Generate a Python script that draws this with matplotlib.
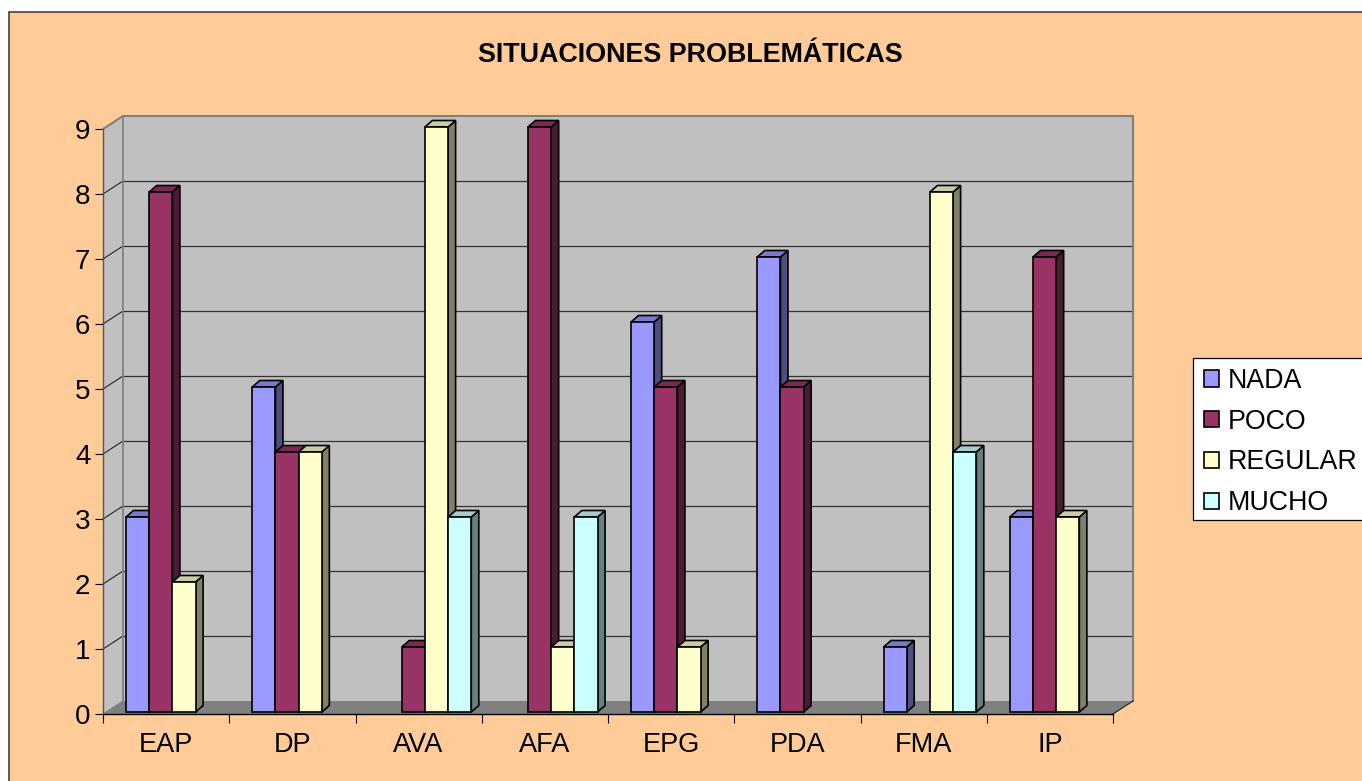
import matplotlib
matplotlib.use('Agg')
import matplotlib.pyplot as plt
from matplotlib.patches import Rectangle

plt.rcParams['font.family'] = ['Liberation Sans', 'DejaVu Sans']

categories = ['EAP', 'DP', 'AVA', 'AFA', 'EPG', 'PDA', 'FMA', 'IP']
series_names = ['NADA', 'POCO', 'REGULAR', 'MUCHO']
nada = [3, 5, 0, 0, 6, 7, 1, 3]
poco = [8, 4, 1, 9, 5, 5, 0, 7]
regular = [2, 4, 9, 1, 1, 0, 8, 3]
mucho = [0, 0, 3, 3, 0, 0, 4, 0]

W, H = 1362, 781
# pixel box of the front of the plot
left, right, bottom, top = 103, 1113, 714, 129
px_x = (right - left) / len(categories)
px_y = (bottom - top) / 9

# depth of the walls and of the bars, in data units
wall_dx, wall_dy = 20 / px_x, 13 / px_y
bar_dx, bar_dy = 7.5 / px_x, 6.5 / px_y
bar_lift = 2 / px_y
bar_start = 23 / px_x
bar_w = 23.2 / px_x

front = ['#9999FF', '#993366', '#FFFFCC', '#CCFFFF']
side = ['#4D4D80', '#4D1A33', '#808066', '#668080']
cap = ['#7A7ACC', '#7A2952', '#CCCCA3', '#A3CCCC']

fig = plt.figure(figsize=(W / 100, H / 100), dpi=100, facecolor='white')
fig.add_artist(Rectangle((9 / W, -0.02), 1.02, 1 - 12 / H + 0.02, transform=fig.transFigure,
                         facecolor='#FFCC99', edgecolor='#333333', linewidth=1.1, zorder=-5))

ax = fig.add_axes([left / W, 1 - bottom / H, (right - left) / W, (bottom - top) / H])
ax.patch.set_alpha(0)
n = len(categories)
ax.set_xlim(0, n)
ax.set_ylim(0, 9)

# walls and floor
ax.fill([wall_dx, n + wall_dx, n + wall_dx, wall_dx], [wall_dy, wall_dy, 9 + wall_dy, 9 + wall_dy],
        facecolor='#C0C0C0', edgecolor='none', zorder=1, clip_on=False)
ax.fill([0, wall_dx, wall_dx, 0], [0, wall_dy, 9 + wall_dy, 9],
        facecolor='#C0C0C0', edgecolor='none', zorder=1, clip_on=False)
ax.fill([0, n, n + wall_dx, wall_dx], [0, 0, wall_dy, wall_dy],
        facecolor='#808080', edgecolor='none', zorder=1, clip_on=False)

# gridlines on the back wall and the left wall
for k in range(1, 9):
    ax.plot([wall_dx, n + wall_dx], [k + wall_dy, k + wall_dy], color='#333333', lw=0.9, zorder=2, clip_on=False)
    ax.plot([0, wall_dx], [k, k + wall_dy], color='#222222', lw=0.8, zorder=2, clip_on=False)

# wall borders
ax.plot([0, wall_dx, n + wall_dx, n + wall_dx], [9, 9 + wall_dy, 9 + wall_dy, wall_dy],
        color='#808080', lw=1.5, zorder=2, clip_on=False)
ax.plot([wall_dx, wall_dx], [wall_dy, 9 + wall_dy], color='#808080', lw=1.3, zorder=2, clip_on=False)
ax.plot([n, n + wall_dx], [0, wall_dy], color='#222222', lw=0.8, zorder=2, clip_on=False)
ax.plot([0, wall_dx], [0, wall_dy], color='#808080', lw=0.8, zorder=2, clip_on=False)

# bars, left to right so each one covers the side of the one before
handles = []
z = 3
edge = dict(edgecolor='black', linewidth=1.2, joinstyle='miter', clip_on=False)
for i in range(n):
    values = [nada[i], poco[i], regular[i], mucho[i]]
    for j, v in enumerate(values):
        if v == 0:
            continue
        x0 = i + bar_start + j * bar_w
        x1 = x0 + bar_w
        y0 = bar_lift
        y1 = v + bar_lift
        ax.fill([x1, x1 + bar_dx, x1 + bar_dx, x1], [y0, y0 + bar_dy, y1 + bar_dy, y1],
                facecolor=side[j], zorder=z, **edge)
        ax.fill([x0, x1, x1 + bar_dx, x0 + bar_dx], [y1, y1, y1 + bar_dy, y1 + bar_dy],
                facecolor=cap[j], zorder=z, **edge)
        ax.bar(x0, v, width=bar_w, bottom=bar_lift, align='edge', facecolor=front[j], zorder=z + 0.5, **edge)
        z += 1

for j, name in enumerate(series_names):
    handles.append(Rectangle((0, 0), 1, 1, facecolor=front[j], edgecolor='black', linewidth=1.2, label=name))

# axes
for s in ['top', 'right']:
    ax.spines[s].set_visible(False)
ax.spines['left'].set_color('#555555')
ax.spines['left'].set_linewidth(1.0)
ax.spines['bottom'].set_color('black')
ax.spines['bottom'].set_linewidth(1.0)
ax.spines['left'].set_zorder(200)
ax.spines['bottom'].set_zorder(200)
ax.set_yticks(range(0, 10))
ax.tick_params(axis='y', length=6, width=0.8, labelsize=20, pad=3)
ax.set_xticks(range(0, n + 1))
ax.set_xticklabels([])
ax.set_xticks([i + 0.5 for i in range(n)], minor=True)
ax.set_xticklabels(categories, minor=True)
ax.tick_params(axis='x', which='major', length=6.5, width=0.8)
ax.tick_params(axis='x', which='minor', length=0, labelsize=19.5, pad=13)

fig.text(690 / W, 1 - 55 / H, 'SITUACIONES PROBLEMÁTICAS', fontsize=19.4, fontweight='bold',
         ha='center', va='center', color='black')

# legend box drawn apart so its height can match
fig.add_artist(Rectangle((1193 / W, 1 - 520 / H), 0.2, 162 / H, transform=fig.transFigure,
                         facecolor='white', edgecolor='black', linewidth=0.9, zorder=4))
leg = fig.legend(handles=handles, loc='upper left', bbox_to_anchor=(1193 / W, 1 - 357 / H),
                 bbox_transform=fig.transFigure, borderaxespad=0, fontsize=19.3, frameon=False,
                 handlelength=0.56, handleheight=0.56, handletextpad=0.33, labelspacing=0.55,
                 borderpad=0.41)
leg.set_zorder(5)

fig.savefig('out.png', dpi=100, facecolor=fig.get_facecolor())
